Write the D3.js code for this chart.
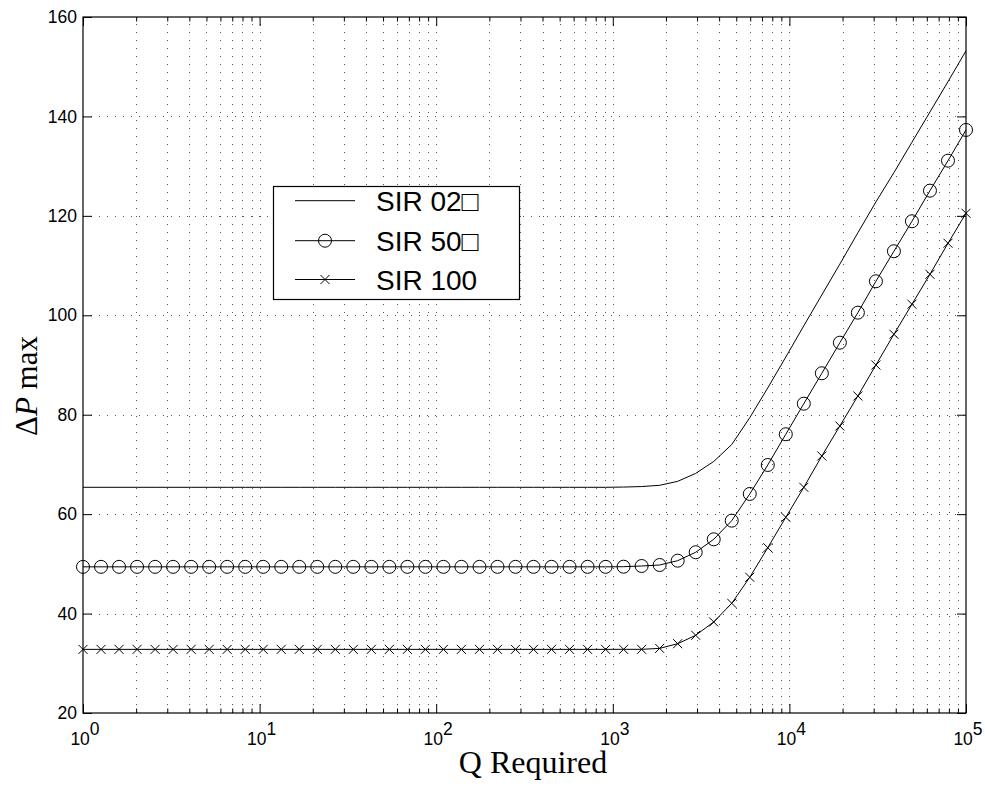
<!DOCTYPE html>
<html>
<head>
<meta charset="utf-8">
<script src="https://cdn.jsdelivr.net/npm/d3@7"></script>
<style>
  html, body { margin: 0; padding: 0; background: #fff; }
  svg { display: block; }
</style>
</head>
<body>
<svg id="chart" width="985" height="787"></svg>
<script>
// Sample points of Q (log-spaced, 50 points over five decades)
const qRequired = [
  1, 1.265, 1.600, 2.024, 2.560, 3.238, 4.095, 5.180, 6.552, 8.287,
  10.48, 13.26, 16.77, 21.21, 26.83, 33.93, 42.92, 54.29, 68.67, 86.86,
  109.9, 138.9, 175.8, 222.3, 281.2, 355.6, 449.8, 569.0, 719.7, 910.4,
  1151, 1456, 1842, 2330, 2947, 3728, 4715, 5964, 7543, 9541,
  12068, 15264, 19307, 24421, 30890, 39071, 49420, 62509, 79066, 100000
];

// Maximum delta P for each SIR setting
const sir020 = [
  65.4, 65.4, 65.4, 65.4, 65.4, 65.4, 65.4, 65.4, 65.4, 65.4,
  65.4, 65.4, 65.4, 65.4, 65.4, 65.4, 65.4, 65.4, 65.4, 65.4,
  65.4, 65.4, 65.4, 65.4, 65.4, 65.4, 65.4, 65.4, 65.4, 65.4,
  65.45, 65.55, 65.8, 66.6, 68.2, 70.6, 74.0, 79.4, 85.4, 91.6,
  97.9, 104.1, 110.3, 116.6, 122.8, 128.7, 134.8, 140.9, 147.0, 153.2
];
const sir050 = [
  49.4, 49.4, 49.4, 49.4, 49.4, 49.4, 49.4, 49.4, 49.4, 49.4,
  49.4, 49.4, 49.4, 49.4, 49.4, 49.4, 49.4, 49.4, 49.4, 49.4,
  49.4, 49.4, 49.4, 49.4, 49.4, 49.4, 49.4, 49.4, 49.4, 49.4,
  49.43, 49.57, 49.77, 50.64, 52.33, 54.94, 58.69, 64.06, 69.89, 76.07,
  82.22, 88.34, 94.49, 100.53, 106.84, 112.88, 118.91, 125.07, 131.1, 137.28
];
const sir100 = [
  32.8, 32.8, 32.8, 32.8, 32.8, 32.8, 32.8, 32.8, 32.8, 32.8,
  32.8, 32.8, 32.8, 32.8, 32.8, 32.8, 32.8, 32.8, 32.8, 32.8,
  32.8, 32.8, 32.8, 32.8, 32.8, 32.8, 32.8, 32.8, 32.8, 32.8,
  32.81, 32.81, 33.0, 33.94, 35.63, 38.31, 42.07, 47.3, 53.25, 59.37,
  65.4, 71.7, 77.73, 83.77, 90.0, 96.18, 102.22, 108.25, 114.49, 120.52
];

const legendLabels = ["SIR 02\u25A1", "SIR 50\u25A1", "SIR 100"];
const xMajorTicks = [1, 10, 100, 1000, 10000, 100000];
const xTickExponents = ["0", "1", "2", "3", "4", "5"];
const yTicks = [20, 40, 60, 80, 100, 120, 140, 160];

const svg = d3.select("#chart");
const W = 985, H = 787;
const m = { left: 83, right: 966, top: 17, bottom: 713 };

svg.append("rect").attr("width", W).attr("height", H).attr("fill", "#fff");

const x = d3.scaleLog().domain([1, 1e5]).range([m.left, m.right]);
const y = d3.scaleLinear().domain([20, 160]).range([m.bottom, m.top]);

// minor decade ticks 2..9 within each decade
const xMinorTicks = [];
for (let d = 1; d < 1e5; d *= 10) for (let j = 2; j <= 9; j++) xMinorTicks.push(d * j);

const sans = "'Liberation Sans', Arial, Helvetica, 'DejaVu Sans', sans-serif";
const serif = "'Liberation Serif', 'Times New Roman', 'DejaVu Serif', serif";

// dotted grid
const grid = svg.append("g").attr("stroke", "#555").attr("stroke-width", 1)
  .attr("stroke-dasharray", "1,7").attr("fill", "none");
grid.selectAll("line.v").data(xMinorTicks.concat(xMajorTicks.slice(1, -1))).join("line")
  .attr("class", "v")
  .attr("x1", d => Math.round(x(d)) + 0.5).attr("x2", d => Math.round(x(d)) + 0.5)
  .attr("y1", m.bottom).attr("y2", m.top);
grid.selectAll("line.h").data(yTicks.slice(1, -1)).join("line")
  .attr("class", "h")
  .attr("x1", m.left).attr("x2", m.right)
  .attr("y1", d => Math.round(y(d)) + 0.5).attr("y2", d => Math.round(y(d)) + 0.5);

// data lines
const line = d3.line().x((d, i) => x(qRequired[i])).y(d => y(d));
const series = [sir020, sir050, sir100];
svg.append("g").selectAll("path").data(series).join("path")
  .attr("d", line).attr("fill", "none").attr("stroke", "#000").attr("stroke-width", 1);

// circle markers for SIR 50
svg.append("g").selectAll("circle").data(sir050).join("circle")
  .attr("cx", (d, i) => x(qRequired[i])).attr("cy", d => y(d)).attr("r", 6.5)
  .attr("fill", "none").attr("stroke", "#000").attr("stroke-width", 1);

// cross markers for SIR 100
const cross = (cx, cy, s) => `M${cx - s},${cy - s}L${cx + s},${cy + s}M${cx - s},${cy + s}L${cx + s},${cy - s}`;
svg.append("g").selectAll("path").data(sir100).join("path")
  .attr("d", (d, i) => cross(x(qRequired[i]), y(d), 4.5))
  .attr("fill", "none").attr("stroke", "#000").attr("stroke-width", 1);

// axes with inward ticks on all four sides
const axG = svg.append("g");
function styleAxis(g) {
  g.select(".domain").remove();
  g.selectAll("line").attr("stroke", "#000");
  g.selectAll("text").remove();
}
axG.append("g").attr("transform", `translate(0,${m.bottom})`)
  .call(d3.axisBottom(x).tickValues(xMajorTicks).tickSize(-9).tickFormat(() => "")).call(styleAxis);
axG.append("g").attr("transform", `translate(0,${m.bottom})`)
  .call(d3.axisBottom(x).tickValues(xMinorTicks).tickSize(-4.5).tickFormat(() => "")).call(styleAxis);
axG.append("g").attr("transform", `translate(0,${m.top})`)
  .call(d3.axisTop(x).tickValues(xMajorTicks).tickSize(-9).tickFormat(() => "")).call(styleAxis);
axG.append("g").attr("transform", `translate(0,${m.top})`)
  .call(d3.axisTop(x).tickValues(xMinorTicks).tickSize(-4.5).tickFormat(() => "")).call(styleAxis);
axG.append("g").attr("transform", `translate(${m.right},0)`)
  .call(d3.axisRight(y).tickValues(yTicks).tickSize(-9).tickFormat(() => "")).call(styleAxis);

const yAxis = axG.append("g").attr("transform", `translate(${m.left},0)`)
  .call(d3.axisLeft(y).tickValues(yTicks).tickSize(-9).tickPadding(6));
yAxis.select(".domain").remove();
yAxis.selectAll("line").attr("stroke", "#000");
yAxis.selectAll("text").attr("font-family", sans).attr("font-size", 17.5).attr("fill", "#000");

// frame
svg.append("rect").attr("x", m.left).attr("y", m.top)
  .attr("width", m.right - m.left).attr("height", m.bottom - m.top)
  .attr("fill", "none").attr("stroke", "#000").attr("stroke-width", 1.2);

// x tick labels: 10 with raised exponent
const xl = svg.append("g").attr("font-family", sans).attr("font-size", 17.5).attr("fill", "#000");
xMajorTicks.forEach((v, i) => {
  const t = xl.append("text").attr("x", x(v) + 2).attr("y", 745).attr("text-anchor", "middle");
  t.append("tspan").text("10");
  t.append("tspan").attr("dy", -10).text(xTickExponents[i]);
});

// axis titles
svg.append("text").attr("x", 533).attr("y", 773).attr("text-anchor", "middle")
  .attr("font-family", serif).attr("font-size", 32).attr("fill", "#000").text("Q Required");

const yt = svg.append("text").attr("transform", "translate(37,386) rotate(-90)")
  .attr("text-anchor", "middle").attr("font-family", serif).attr("font-size", 31).attr("fill", "#000");
yt.append("tspan").text("\u0394");
yt.append("tspan").attr("font-style", "italic").text("P");
yt.append("tspan").text(" max");

// legend
const lg = svg.append("g");
lg.append("rect").attr("x", 273.5).attr("y", 186.5).attr("width", 246).attr("height", 113)
  .attr("fill", "#fff").attr("stroke", "#000").attr("stroke-width", 1.2);
const rowsY = [200.7, 240.7, 279.5];
legendLabels.forEach((lab, i) => {
  const ry = rowsY[i];
  lg.append("line").attr("x1", 295).attr("x2", 355).attr("y1", ry).attr("y2", ry)
    .attr("stroke", "#000").attr("stroke-width", 1);
  if (i === 1) lg.append("circle").attr("cx", 325).attr("cy", ry).attr("r", 6.5)
    .attr("fill", "none").attr("stroke", "#000");
  if (i === 2) lg.append("path").attr("d", cross(325, ry, 4.5)).attr("fill", "none").attr("stroke", "#000");
  lg.append("text").attr("x", 376).attr("y", ry + 10).attr("font-family", sans)
    .attr("font-size", 28).attr("fill", "#000").text(lab);
});
</script>
</body>
</html>
